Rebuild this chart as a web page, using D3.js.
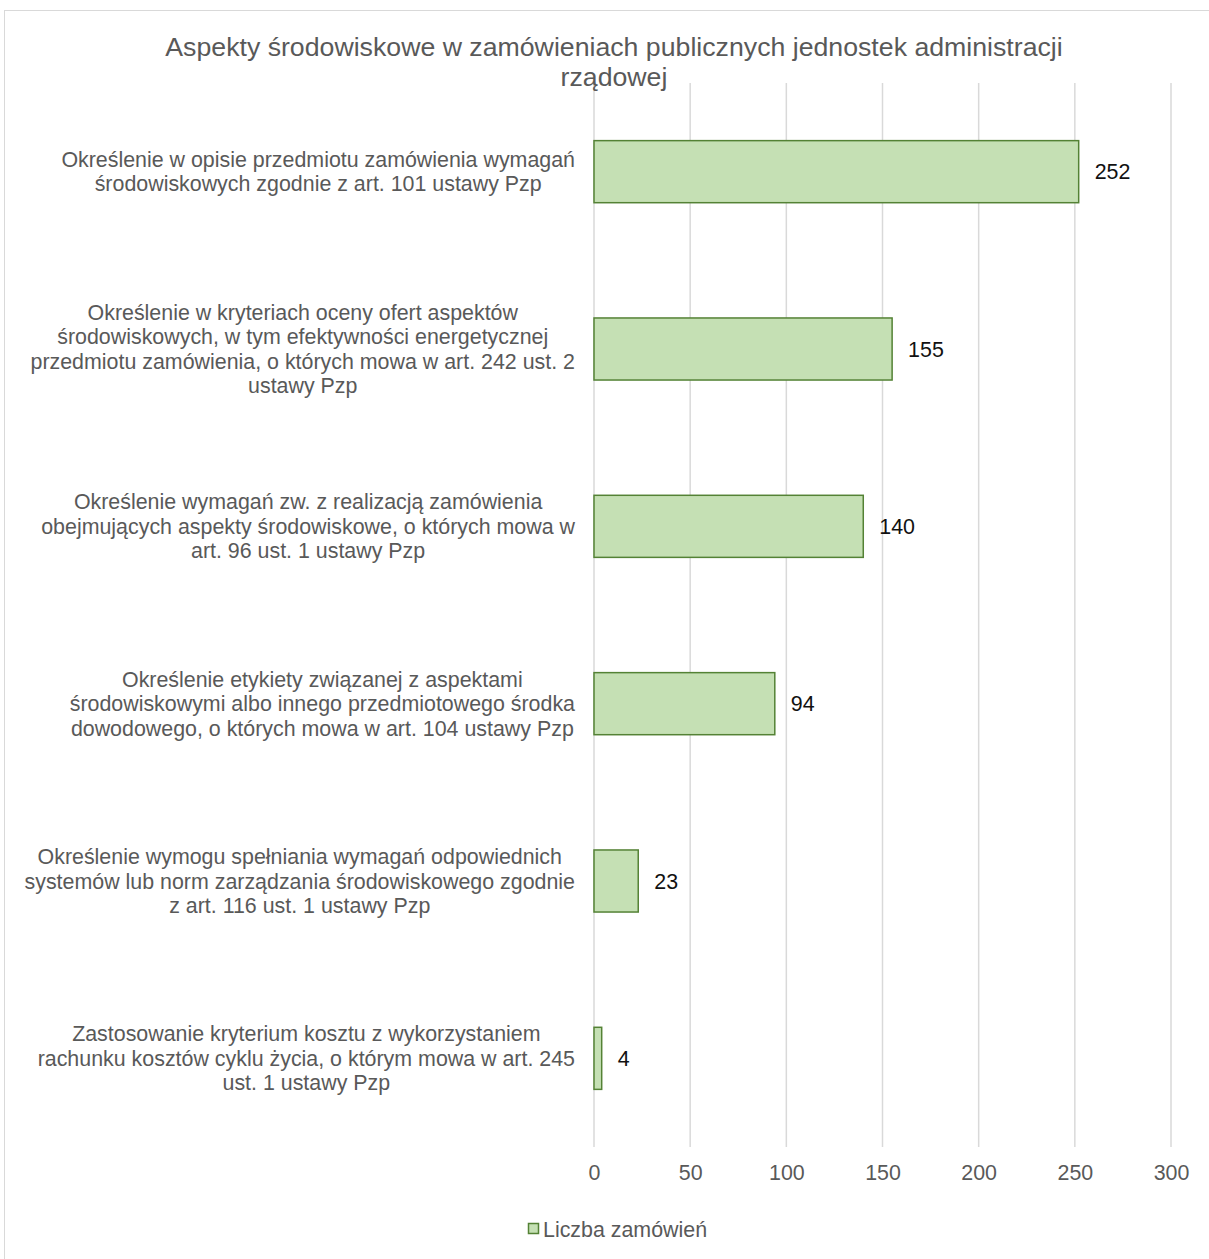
<!DOCTYPE html>
<html><head><meta charset="utf-8">
<script src="https://cdn.jsdelivr.net/npm/d3@7"></script>
<style>html,body{margin:0;padding:0;background:#fff;} svg{display:block;font-family:"Liberation Sans",Arial,sans-serif;}</style>
</head><body>
<svg id="chart" width="1209" height="1259"></svg>
<script>
const titleLines = ["Aspekty środowiskowe w zamówieniach publicznych jednostek administracji", "rządowej"];
const categories = [
  ["Określenie w opisie przedmiotu zamówienia wymagań", "środowiskowych zgodnie z art. 101 ustawy Pzp"],
  ["Określenie w kryteriach oceny ofert aspektów", "środowiskowych, w tym efektywności energetycznej", "przedmiotu zamówienia, o których mowa w art. 242 ust. 2", "ustawy Pzp"],
  ["Określenie wymagań zw. z realizacją zamówienia", "obejmujących aspekty środowiskowe, o których mowa w", "art. 96 ust. 1 ustawy Pzp"],
  ["Określenie etykiety związanej z aspektami", "środowiskowymi albo innego przedmiotowego środka", "dowodowego, o których mowa w art. 104 ustawy Pzp"],
  ["Określenie wymogu spełniania wymagań odpowiednich", "systemów lub norm zarządzania środowiskowego zgodnie", "z art. 116 ust. 1 ustawy Pzp"],
  ["Zastosowanie kryterium kosztu z wykorzystaniem", "rachunku kosztów cyklu życia, o którym mowa w art. 245", "ust. 1 ustawy Pzp"]
];
const values = [252, 155, 140, 94, 23, 4];
const xTicks = [0, 50, 100, 150, 200, 250, 300];
const seriesName = "Liczba zamówień";

const svg = d3.select("#chart");
const textCol = "#595959";
const fill = "#c5e0b4", stroke = "#548235", grid = "#d9d9d9";
const fs = 21.4;

// outer border
svg.append("rect").attr("x", 4.5).attr("y", 10.5).attr("width", 1230).attr("height", 1260)
  .attr("fill", "none").attr("stroke", grid).attr("stroke-width", 1);

const x = d3.scaleLinear().domain([0, 300]).range([594, 1171]);
const keys = categories.map((c, i) => i);
const y = d3.scaleBand().domain(keys).range([83, 1147]).paddingInner(0.65).paddingOuter(0.325);

// gridlines
svg.append("g").selectAll("line").data(xTicks).join("line")
  .attr("x1", d => x(d)).attr("x2", d => x(d)).attr("y1", 83).attr("y2", 1147)
  .attr("stroke", grid).attr("stroke-width", 1.5);

// title
svg.append("g").selectAll("text").data(titleLines).join("text")
  .attr("x", 614).attr("y", (d, i) => 56 + i * 30)
  .attr("text-anchor", "middle").attr("fill", textCol).attr("font-size", 26.7).text(d => d);

// bars
svg.append("g").selectAll("rect").data(values).join("rect")
  .attr("x", x(0)).attr("y", (d, i) => y(i)).attr("width", d => x(d) - x(0)).attr("height", y.bandwidth())
  .attr("fill", fill).attr("stroke", stroke).attr("stroke-width", 1.5);

// value labels
svg.append("g").selectAll("text").data(values).join("text")
  .attr("x", d => x(d) + 16).attr("y", (d, i) => y(i) + y.bandwidth() / 2 + 7.5)
  .attr("fill", "#111").attr("font-size", fs).text(d => d);

// category labels
const lh = 24.5;
const lab = svg.append("g");
categories.forEach((lines, i) => {
  const cy = y(i) + y.bandwidth() / 2;
  const g = lab.append("g");
  const ts = g.selectAll("text").data(lines).join("text")
    .attr("y", (d, j) => cy + (j - (lines.length - 1) / 2) * lh + 7.5)
    .attr("fill", textCol).attr("font-size", fs).attr("text-anchor", "middle").text(d => d);
  let maxW = 0;
  ts.each(function () { maxW = Math.max(maxW, this.getComputedTextLength()); });
  ts.attr("x", 575 - maxW / 2);
});

// x axis tick labels
const ax = svg.append("g").attr("transform", "translate(0,1147)")
  .call(d3.axisBottom(x).tickValues(xTicks).tickSize(0).tickPadding(18));
ax.select(".domain").remove();
ax.selectAll("text").attr("fill", textCol).attr("font-size", fs).attr("font-family", "Liberation Sans, Arial, sans-serif");

// legend
const lg = svg.append("g");
lg.append("rect").attr("x", 528.5).attr("y", 1223.5).attr("width", 10).attr("height", 10)
  .attr("fill", fill).attr("stroke", stroke).attr("stroke-width", 1.5);
lg.append("text").attr("x", 543).attr("y", 1236.5).attr("fill", textCol).attr("font-size", fs).text(seriesName);
</script>
</body></html>
